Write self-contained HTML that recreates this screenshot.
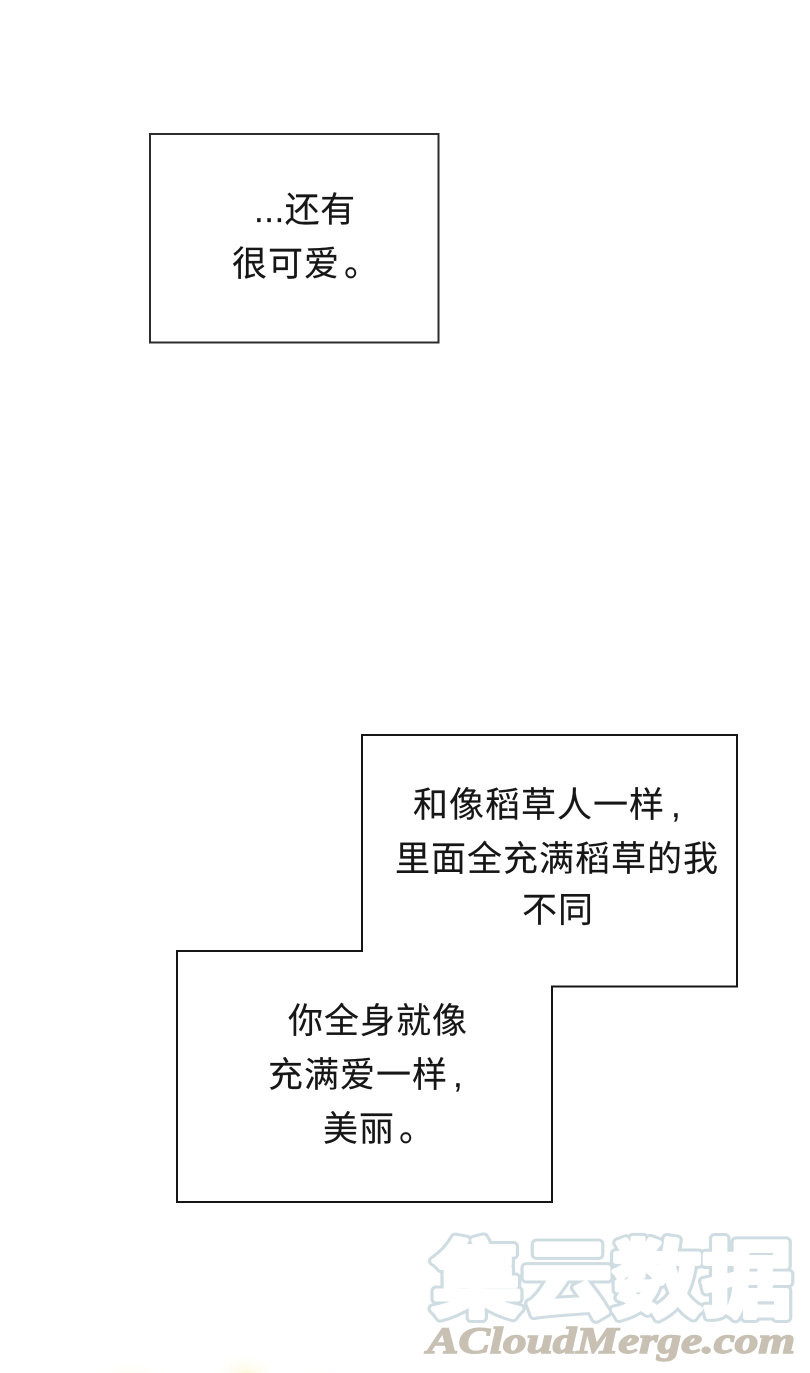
<!DOCTYPE html>
<html lang="zh">
<head>
<meta charset="utf-8">
<style>
html,body{margin:0;padding:0;background:#fff;width:810px;height:1373px;overflow:hidden}
svg{display:block;position:absolute;left:0;top:0}
.t{font-family:"Liberation Sans","Noto Sans CJK SC",sans-serif;font-size:35px;letter-spacing:1px;fill:#161616;stroke:#161616;stroke-width:.15px;font-weight:400}
.w{font-family:"Noto Sans CJK SC","WenQuanYi Zen Hei",sans-serif;font-weight:700;font-size:84px;stroke-linejoin:round}
</style>
</head>
<body>
<svg width="810" height="1373" viewBox="0 0 810 1373" xmlns="http://www.w3.org/2000/svg">
<defs>
<radialGradient id="g"><stop offset="0" stop-color="#fbf8d0"/><stop offset="1" stop-color="#fff" stop-opacity="0"/></radialGradient>
<radialGradient id="h"><stop offset="0" stop-color="#fdfbe6"/><stop offset="1" stop-color="#fff" stop-opacity="0"/></radialGradient>
</defs>
<rect width="810" height="1373" fill="#fff"/>

<rect x="150" y="134" width="288.500" height="208.500" fill="#fff" stroke="#2c2c2c" stroke-width="2"/>
<text class="t" x="254" y="222" style="letter-spacing:.5px">...还有</text>
<text class="t" x="232" y="276">很可爱<tspan dx="4">。</tspan></text>

<path d="M362 735H737V986.500H552V1202H177V951H362Z" fill="#fff" stroke="#161616" stroke-width="2"/>
<text class="t" x="413" y="817">和像稻草人一样<tspan dx="6">,</tspan></text>
<text class="t" x="395" y="871">里面全充满稻草的我</text>
<text class="t" x="522" y="922">不同</text>
<text class="t" x="288" y="1033">你全身就像</text>
<text class="t" x="268" y="1087">充满爱一样<tspan dx="5">,</tspan></text>
<text class="t" x="323" y="1141">美丽<tspan dx="4">。</tspan></text>

<ellipse cx="245" cy="1378" rx="36" ry="26" fill="url(#g)"/>
<ellipse cx="130" cy="1380" rx="45" ry="20" fill="url(#h)"/>
<ellipse cx="325" cy="1380" rx="25" ry="14" fill="url(#h)"/>

<text class="w" x="432" y="1310" textLength="360" lengthAdjust="spacingAndGlyphs" fill="#cfdde3" stroke="#cfdde3" stroke-width="11">集云数据</text>
<text class="w" x="432" y="1310" textLength="360" lengthAdjust="spacingAndGlyphs" fill="#fff" stroke="#fff" stroke-width="5">集云数据</text>
<text x="427" y="1353" textLength="368" lengthAdjust="spacingAndGlyphs" font-family="'Liberation Serif',serif" font-weight="700" font-style="italic" font-size="37" fill="#c7c0b3" stroke="#c7c0b3" stroke-width="1.4">ACloudMerge.com</text>
</svg>
</body>
</html>
